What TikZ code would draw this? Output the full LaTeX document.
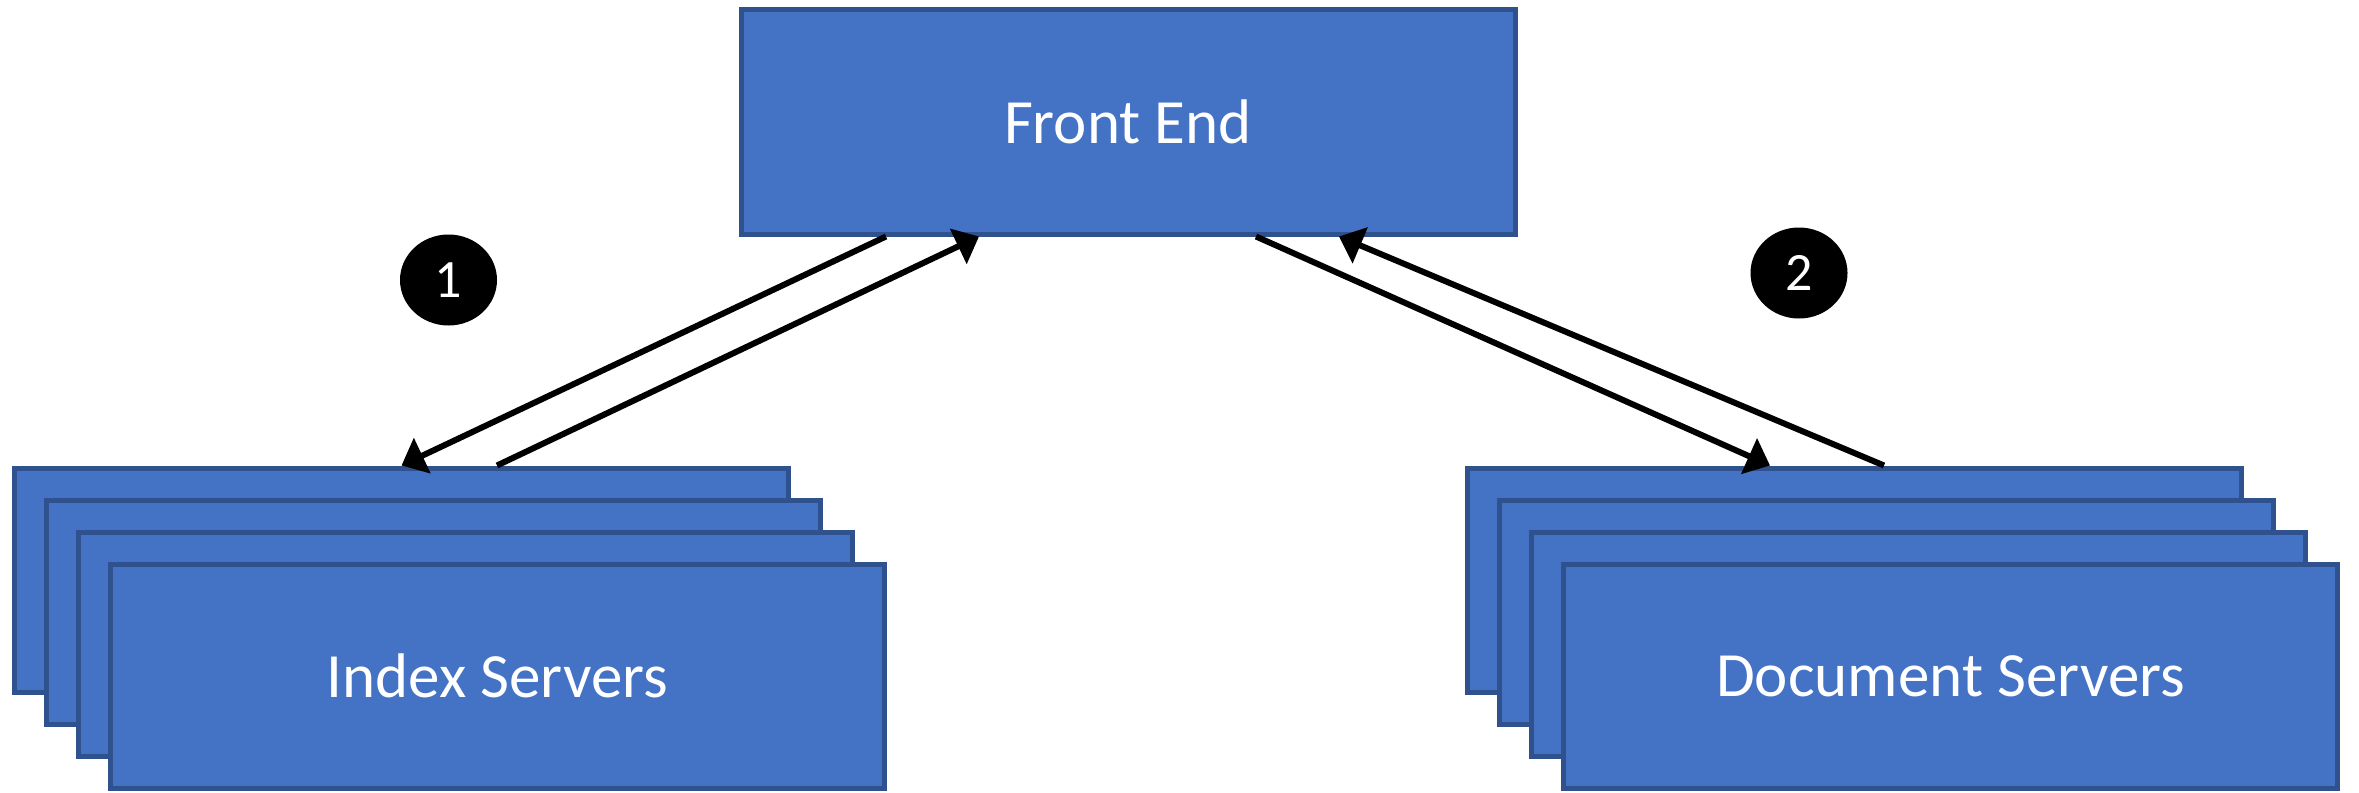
\documentclass[tikz,border=0pt]{standalone}
\usepackage{fontspec}
\setmainfont{Carlito}
\usetikzlibrary{arrows.meta,shapes.geometric,calc}
\definecolor{boxfill}{HTML}{4472C4}
\definecolor{boxline}{HTML}{2F528F}
\begin{document}
\begin{tikzpicture}[x=0.5pt,y=-0.5pt,
 srv/.style={draw=boxline, fill=boxfill, line width=2.5pt, minimum width=387pt, minimum height=112pt, inner sep=0pt, text=white, font=\fontsize{31.5}{38}\selectfont},
 num/.style={ellipse, fill=black, minimum width=48.5pt, minimum height=45.5pt, inner sep=0pt, text=white, font=\fontsize{27}{32}\selectfont},
 arr/.style={line width=3pt, -{Triangle[length=11.5pt,width=19pt]}}]
\useasboundingbox (0,0) rectangle (2359,792);
\node[srv] (fe) at (1128,122) {Front End};
\node[srv] (idx1) at (401.5,580) {};
\node[srv] (idx2) at (433.5,612) {};
\node[srv] (idx3) at (465.5,644) {};
\node[srv] (idx4) at (497.5,676) {Index Servers};
\node[srv] (doc1) at (1854.5,580) {};
\node[srv] (doc2) at (1886.5,612) {};
\node[srv] (doc3) at (1918.5,644) {};
\node[srv] (doc4) at (1950.5,676) {Document Servers};
\node[num] (n1) at (448.5,280) {1};
\node[num] (n2) at (1799,273) {2};
\draw[arr] ($(fe.south west)+(147.5,0)$) -- (idx1.north);
\draw[arr] ($(idx1.north)+(95.5,0)$) -- ($(fe.south west)+(240.5,0)$);
\draw[arr] ($(fe.south)+(128,0)$) -- ($(doc1.north)+(-84.5,0)$);
\draw[arr] ($(doc1.north)+(29.5,0)$) -- ($(fe.south)+(211,0)$);
\end{tikzpicture}
\end{document}
